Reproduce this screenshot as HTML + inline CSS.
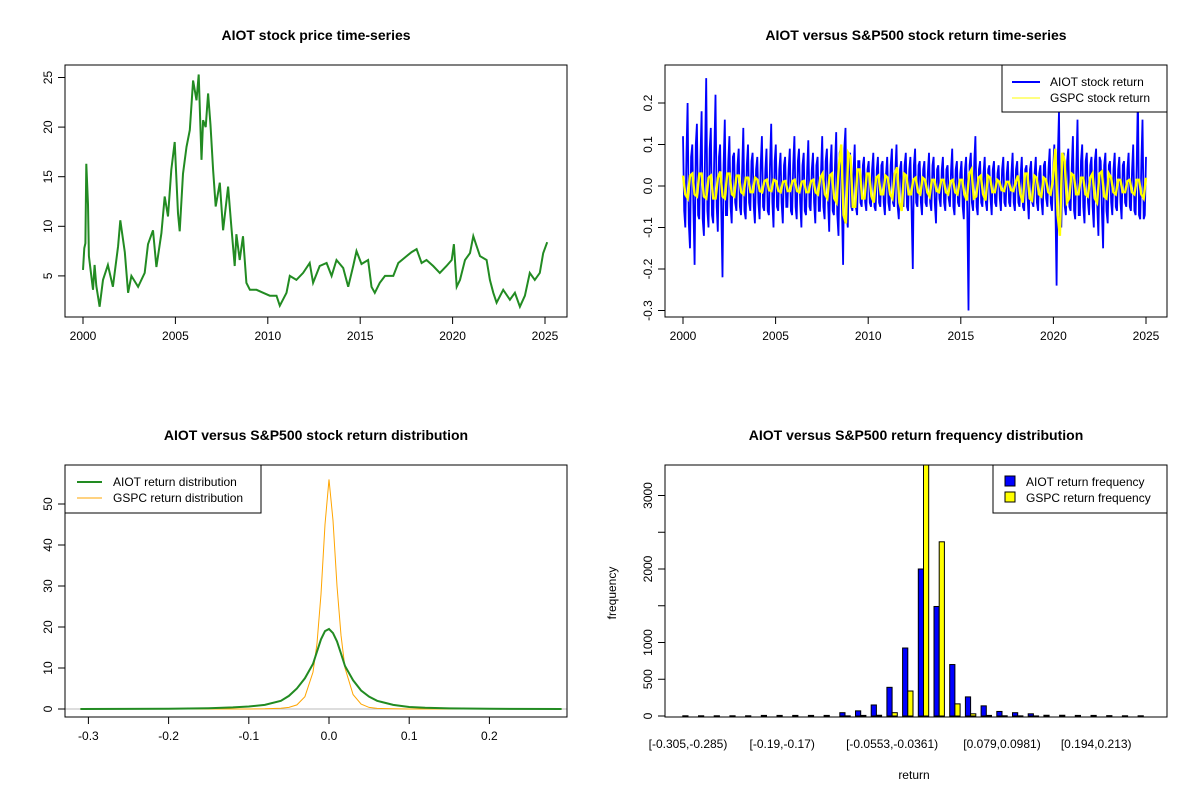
<!DOCTYPE html>
<html><head><meta charset="utf-8">
<style>
body{margin:0;background:#fff;}
svg{display:block;font-family:"Liberation Sans",Arial,sans-serif;}
</style></head>
<body>
<svg id="root" width="1200" height="800" viewBox="0 0 1200 800">
<defs>
<clipPath id="c1"><rect x="65" y="65" width="502" height="252"/></clipPath>
<clipPath id="c2"><rect x="665" y="65" width="502" height="252"/></clipPath>
<clipPath id="c3"><rect x="65" y="465" width="502" height="252"/></clipPath>
<clipPath id="c4"><rect x="665" y="465" width="502" height="252"/></clipPath>
</defs>
</svg>
<script>
// ---------- data ----------
const priceYears = [2000.0,2000.07,2000.13,2000.18,2000.27,2000.32,2000.45,2000.54,2000.63,2000.72,2000.9,2001.08,2001.35,2001.62,2001.9,2002.02,2002.26,2002.44,2002.62,2002.98,2003.34,2003.52,2003.79,2003.97,2004.24,2004.42,2004.6,2004.78,2004.96,2005.14,2005.23,2005.41,2005.6,2005.78,2005.96,2006.14,2006.26,2006.41,2006.5,2006.64,2006.77,2006.9,2007.04,2007.18,2007.4,2007.58,2007.85,2008.03,2008.21,2008.3,2008.48,2008.66,2008.84,2009.03,2009.39,2009.75,2010.11,2010.47,2010.65,2011.01,2011.19,2011.55,2011.91,2012.27,2012.45,2012.81,2013.18,2013.45,2013.72,2014.08,2014.35,2014.62,2014.8,2015.07,2015.43,2015.61,2015.79,2016.06,2016.34,2016.79,2017.06,2017.51,2017.78,2018.05,2018.32,2018.59,2018.95,2019.31,2019.67,2019.95,2020.07,2020.22,2020.4,2020.67,2020.94,2021.12,2021.3,2021.48,2021.84,2022.02,2022.2,2022.38,2022.74,2023.1,2023.37,2023.64,2023.91,2024.18,2024.45,2024.72,2024.9,2025.12];
const priceValues = [5.6,7.8,8.3,16.3,12.2,7.0,5.0,3.6,6.1,4.0,1.9,4.6,6.1,3.9,8.0,10.6,7.4,3.3,5.0,3.9,5.3,8.2,9.6,5.9,9.3,13.0,11.0,15.7,18.5,11.3,9.5,15.3,18.0,19.7,24.7,22.7,25.3,16.7,20.7,20.0,23.4,20.2,15.7,12.0,14.4,9.6,14.0,9.9,6.0,9.2,6.6,9.0,4.3,3.6,3.6,3.3,3.0,3.0,2.0,3.3,5.0,4.6,5.3,6.3,4.3,6.0,6.3,5.0,6.6,5.8,3.9,6.0,7.5,6.2,6.6,3.9,3.3,4.3,5.0,5.0,6.3,7.0,7.4,7.7,6.3,6.6,6.0,5.3,6.0,6.6,8.2,3.9,4.6,6.6,7.3,9.0,8.0,7.0,6.6,4.6,3.3,2.3,3.6,2.6,3.3,1.9,3.0,5.3,4.6,5.3,7.3,8.4];
const priceXTicks = [2000,2005,2010,2015,2020,2025];
const priceYTicks = [5,10,15,20,25];

const aiotReturns = [.12,-.10,.20,-.15,.10,-.19,.15,-.08,
.18,-.12,.26,-.10,.14,-.09,.22,-.11,
.10,-.22,.16,-.07,.12,-.09,.08,-.06,
.09,-.07,.14,-.08,.10,-.06,.08,-.09,
.07,-.08,.12,-.06,.09,-.07,.15,-.10,
.10,-.06,.08,-.09,.07,-.05,.09,-.07,
.12,-.08,.09,-.10,.08,-.07,.11,-.06,
.08,-.09,.07,-.06,.12,-.08,.09,-.11,
.10,-.07,.13,-.12,.09,-.19,.14,-.10,
.08,-.06,.10,-.07,.06,-.05,.07,-.06,
.06,-.05,.08,-.06,.07,-.05,.06,-.07,
.07,-.06,.09,-.05,.10,-.08,.06,-.05,
.08,-.06,.07,-.20,.09,-.05,.06,-.07,
.06,-.05,.08,-.06,.07,-.09,.05,-.05,
.07,-.06,.05,-.05,.09,-.07,.06,-.05,
.06,-.08,.07,-.30,.08,-.06,.12,-.07,
.06,-.05,.07,-.06,.05,-.07,.06,-.05,
.05,-.06,.07,-.05,.06,-.05,.08,-.06,
.06,-.05,.07,-.06,.05,-.08,.06,-.05,
.07,-.06,.05,-.07,.06,-.05,.09,-.06,
.10,-.24,.18,-.10,.08,-.07,.09,-.06,
.12,-.08,.16,-.07,.10,-.09,.08,-.07,
.07,-.10,.09,-.12,.06,-.15,.08,-.09,
.06,-.07,.08,-.06,.07,-.08,.06,-.05,
.08,-.06,.10,-.07,.22,-.08,.16,-.07];
const aiotReturns2 = [-.06,.08,-.09,.07,-.05,.10,-.07,.06,
-.08,.07,-.06,.09,-.07,.08,-.05,.07,
-.06,.05,-.07,.06,-.05,.07,-.04,.05,
-.05,.04,-.06,.05,-.04,.06,-.05,.04,
-.04,.05,-.05,.04,-.06,.05,-.04,.06,
-.05,.04,-.04,.05,-.05,.04,-.06,.05,
-.05,.06,-.04,.05,-.06,.04,-.05,.04,
-.04,.05,-.06,.04,-.05,.06,-.04,.05,
-.06,.05,-.07,.08,-.06,.09,-.07,.06,
-.05,.04,-.05,.06,-.04,.05,-.04,.04,
-.04,.04,-.05,.04,-.04,.05,-.04,.03,
-.04,.05,-.04,.04,-.05,.04,-.04,.05,
-.05,.04,-.06,.05,-.04,.05,-.04,.04,
-.04,.03,-.04,.05,-.04,.04,-.03,.04,
-.04,.04,-.03,.04,-.05,.04,-.04,.03,
-.05,.04,-.06,.05,-.04,.06,-.05,.04,
-.04,.03,-.04,.04,-.03,.04,-.04,.03,
-.03,.04,-.04,.03,-.04,.03,-.04,.04,
-.04,.03,-.05,.04,-.03,.04,-.04,.03,
-.04,.03,-.04,.05,-.03,.04,-.04,.04,
-.06,.07,-.08,.06,-.05,.06,-.05,.04,
-.06,.05,-.07,.06,-.05,.06,-.04,.05,
-.05,.06,-.05,.07,-.06,.05,-.06,.05,
-.04,.04,-.05,.04,-.04,.05,-.04,.04,
-.05,.04,-.06,.05,-.07,.06,-.08,.07];
const gspcReturns = [.025,-.03,.03,-.025,.03,-.03,.025,-.03,.035,-.03,.03,-.025,.025,-.02,.02,-.015,
.015,-.015,.015,-.012,.012,-.015,.012,-.012,.015,-.015,.012,-.015,.015,-.02,.03,-.03,
.03,-.04,.1,-.09,.07,-.05,.04,-.03,.03,-.04,.025,-.02,.02,-.03,.045,-.06,
.025,-.02,.02,-.02,.015,-.025,.015,-.015,.015,-.02,.015,-.02,.015,-.035,.04,-.025,
.025,-.035,.02,-.015,.01,-.012,.01,-.012,.025,-.04,.03,-.035,.02,-.025,.015,-.02,
.09,-.12,.06,-.03,.025,-.02,.02,-.025,.03,-.04,.035,-.03,.02,-.02,.015,-.015,
.015,-.02,.015,-.03];
const gspcReturns2 = [-.02,.025,-.02,.03,-.025,.02,-.03,.02,-.025,.03,-.02,.025,-.015,.02,-.015,.02,
-.012,.012,-.01,.015,-.012,.01,-.012,.012,-.012,.01,-.015,.012,-.015,.02,-.02,.025,
-.03,.05,-.07,.08,-.05,.04,-.03,.03,-.025,.02,-.02,.025,-.02,.03,-.04,.03,
-.02,.015,-.015,.02,-.015,.015,-.012,.015,-.015,.012,-.015,.015,-.02,.03,-.03,.02,
-.02,.025,-.015,.015,-.01,.01,-.01,.01,-.02,.03,-.03,.025,-.02,.02,-.015,.015,
-.07,.08,-.04,.03,-.02,.02,-.02,.02,-.03,.03,-.025,.03,-.015,.015,-.015,.012,
-.015,.015,-.02,.02];
const retYTicks = [-0.3,-0.2,-0.1,0,0.1,0.2];
const retYLabels = ["-0.3","-0.2","-0.1","0.0","0.1","0.2"];

const densX = [-0.31,-0.2,-0.15,-0.12,-0.1,-0.08,-0.06,-0.05,-0.04,-0.03,-0.02,-0.015,-0.01,-0.005,0,0.005,0.01,0.015,0.02,0.03,0.04,0.05,0.06,0.08,0.1,0.12,0.15,0.2,0.29];
const densAiot = [0,0.05,0.2,0.4,0.6,1.0,2.0,3.2,5.0,7.5,11,14,17,19,19.5,18.5,16.5,13.5,10.5,7,4.5,3,2,1,0.5,0.3,0.15,0.05,0];
const densGspc = [0,0,0,0,0,0.05,0.2,0.4,1,3,9,16,28,45,56,46,30,18,10,3.5,1.2,0.4,0.15,0.05,0,0,0,0,0];
const densXTicks = [-0.3,-0.2,-0.1,0,0.1,0.2];
const densXLabels = ["-0.3","-0.2","-0.1","0.0","0.1","0.2"];
const densYTicks = [0,10,20,30,40,50];

const histAiot = [3,3,3,3,3,8,8,8,8,8,45,70,150,390,925,2000,1490,700,260,138,62,45,30,10,10,8,8,5,3,3];
const histGspc = [0,0,0,0,0,0,0,0,0,0,2,8,10,45,340,3600,2370,165,30,8,3,2,1,0,0,0,0,0,0,0];
const histLabelIdx = [0,6,13,20,26];
const histLabels = ["[-0.305,-0.285)","[-0.19,-0.17)","[-0.0553,-0.0361)","[0.079,0.0981)","[0.194,0.213)"];
const histYTicks = [0,500,1000,1500,2000,2500,3000];
const histYLabels = ["0","500","1000","","2000","","3000"];

// ---------- helpers ----------
const NS="http://www.w3.org/2000/svg";
const root=document.getElementById('root');
function mk(tag,attrs,parent,text){const e=document.createElementNS(NS,tag);for(const k in attrs)e.setAttribute(k,attrs[k]);if(text!==undefined)e.textContent=text;(parent||root).appendChild(e);return e;}
function group(name){const g=mk('g',{});return g;}
function frame(g,x0,y0,w,h){const r=mk('rect',{x:x0,y:y0,width:w,height:h,fill:'none',stroke:'#000','stroke-width':1},g);}
function title(g,x,y,t){const e=mk('text',{x:x,y:y,'text-anchor':'middle','font-size':14,'font-weight':'bold'},g,t);}
function xAxis(g,ticks,labels,sx,yb){const a=mk('g',{},g);
 mk('line',{x1:sx(ticks[0]),x2:sx(ticks[ticks.length-1]),y1:yb,y2:yb,stroke:'#000'},a);
 ticks.forEach((t,i)=>{mk('line',{x1:sx(t),x2:sx(t),y1:yb,y2:yb+7,stroke:'#000'},a);const l=mk('text',{x:sx(t),y:yb+23,'text-anchor':'middle','font-size':12},a,labels[i]);});}
function yAxis(g,ticks,labels,sy,xl){const a=mk('g',{},g);
 mk('line',{x1:xl,x2:xl,y1:sy(ticks[0]),y2:sy(ticks[ticks.length-1]),stroke:'#000'},a);
 ticks.forEach((t,i)=>{const y=sy(t);mk('line',{x1:xl-7,x2:xl,y1:y,y2:y,stroke:'#000'},a);if(labels[i]!==''){const l=mk('text',{x:xl-13,y:y,'text-anchor':'middle','font-size':12,transform:`rotate(-90 ${xl-13} ${y})`},a,labels[i]);}});}
function poly(g,xs,ys,sx,sy,col,w,clip,name){const pts=xs.map((x,i)=>sx(x).toFixed(1)+','+sy(ys[i]).toFixed(1)).join(' ');const p=mk('polyline',{points:pts,fill:'none',stroke:col,'stroke-width':w,'stroke-linejoin':'miter','clip-path':`url(#${clip})`},g);}
function interleave(a,b){const out=[];for(let i=0;i<a.length;i++){out.push(a[i]);if(i<b.length)out.push(b[i]);}return out;}

// ---------- panel 1: price ----------
{const g=group('price-panel');
 const sx=v=>83+(v-2000)*(462/25), sy=v=>325.5-v*9.92;
 title(g,316,40,'AIOT stock price time-series');
 poly(g,priceYears,priceValues,sx,sy,'#228B22',2,'c1','price-line');
 frame(g,65,65,502,252);
 xAxis(g,priceXTicks,priceXTicks.map(String),sx,317);
 yAxis(g,priceYTicks,priceYTicks.map(String),sy,65);}

// ---------- panel 2: returns ----------
{const g=group('returns-panel');
 const sx=v=>683+(v-2000)*(463/25), sy=v=>186-v*415;
 title(g,916,40,'AIOT versus S&P500 stock return time-series');
 const aAll=interleave(aiotReturns,aiotReturns2);
 const gAll=interleave(gspcReturns,gspcReturns2);
 const ax=aAll.map((v,i)=>2000+25*i/(aAll.length-1));
 const gx=gAll.map((v,i)=>2000+25*i/(gAll.length-1));
 poly(g,ax,aAll,sx,sy,'#0000FF',1.8,'c2','aiot-return-line');
 poly(g,gx,gAll,sx,sy,'#FFFF00',2.4,'c2','gspc-return-line');
 frame(g,665,65,502,252);
 xAxis(g,priceXTicks,priceXTicks.map(String),sx,317);
 yAxis(g,retYTicks,retYLabels,sy,665);
 const lg=mk('g',{},g);
 mk('rect',{x:1002,y:65,width:165,height:47,fill:'#fff',stroke:'#000'},lg);
 mk('line',{x1:1012,x2:1040,y1:82,y2:82,stroke:'#0000FF','stroke-width':2},lg);
 mk('line',{x1:1012,x2:1040,y1:98,y2:98,stroke:'#FFFF00','stroke-width':1},lg);
 mk('text',{x:1050,y:86,'font-size':12},lg,'AIOT stock return');
 mk('text',{x:1050,y:102,'font-size':12},lg,'GSPC stock return');}

// ---------- panel 3: density ----------
{const g=group('density-panel');
 const sx=v=>329+v*802, sy=v=>709-v*4.1;
 title(g,316,440,'AIOT versus S&P500 stock return distribution');
 mk('line',{x1:65,x2:567,y1:sy(0),y2:sy(0),stroke:'#bbb','stroke-width':1,'clip-path':'url(#c3)'},g);
 poly(g,densX,densGspc,sx,sy,'#FFA500',1,'c3','gspc-density-line');
 poly(g,densX,densAiot,sx,sy,'#228B22',2,'c3','aiot-density-line');
 frame(g,65,465,502,252);
 xAxis(g,densXTicks,densXLabels,sx,717);
 yAxis(g,densYTicks,densYTicks.map(String),sy,65);
 const lg=mk('g',{},g);
 mk('rect',{x:65,y:465,width:196,height:48,fill:'#fff',stroke:'#000'},lg);
 mk('line',{x1:77,x2:102,y1:482,y2:482,stroke:'#228B22','stroke-width':2},lg);
 mk('line',{x1:77,x2:102,y1:498,y2:498,stroke:'#FFA500','stroke-width':1},lg);
 mk('text',{x:113,y:486,'font-size':12},lg,'AIOT return distribution');
 mk('text',{x:113,y:502,'font-size':12},lg,'GSPC return distribution');}

// ---------- panel 4: histogram ----------
{const g=group('histogram-panel');
 const gx=i=>688+15.7*i, sy=v=>716-v*0.0735, bw=5.2;
 title(g,916,440,'AIOT versus S&P500 return frequency distribution');
 const bars=mk('g',{'clip-path':'url(#c4)'},g);
 histAiot.forEach((v,i)=>{const b=mk('rect',{x:gx(i)-bw,y:sy(v),width:bw,height:sy(0)-sy(v),fill:'#0000FF',stroke:'#000','stroke-width':1},bars);});
 histGspc.forEach((v,i)=>{const b=mk('rect',{x:gx(i),y:sy(v),width:bw,height:sy(0)-sy(v),fill:'#FFFF00',stroke:'#000','stroke-width':1},bars);});
 frame(g,665,465,502,252);
 yAxis(g,histYTicks,histYLabels,sy,665);
 histLabelIdx.forEach((idx,k)=>{const l=mk('text',{x:gx(idx),y:748,'text-anchor':'middle','font-size':12},g,histLabels[k]);});
 const xt=mk('text',{x:914,y:779,'text-anchor':'middle','font-size':12},g,'return');
 const yt=mk('text',{x:616,y:593,'text-anchor':'middle','font-size':12,transform:'rotate(-90 616 593)'},g,'frequency');
 const lg=mk('g',{},g);
 mk('rect',{x:993,y:465,width:174,height:48,fill:'#fff',stroke:'#000'},lg);
 mk('rect',{x:1005,y:476,width:10,height:10,fill:'#0000FF',stroke:'#000'},lg);
 mk('rect',{x:1005,y:492,width:10,height:10,fill:'#FFFF00',stroke:'#000'},lg);
 mk('text',{x:1026,y:486,'font-size':12},lg,'AIOT return frequency');
 mk('text',{x:1026,y:502,'font-size':12},lg,'GSPC return frequency');}
</script>
</body></html>
